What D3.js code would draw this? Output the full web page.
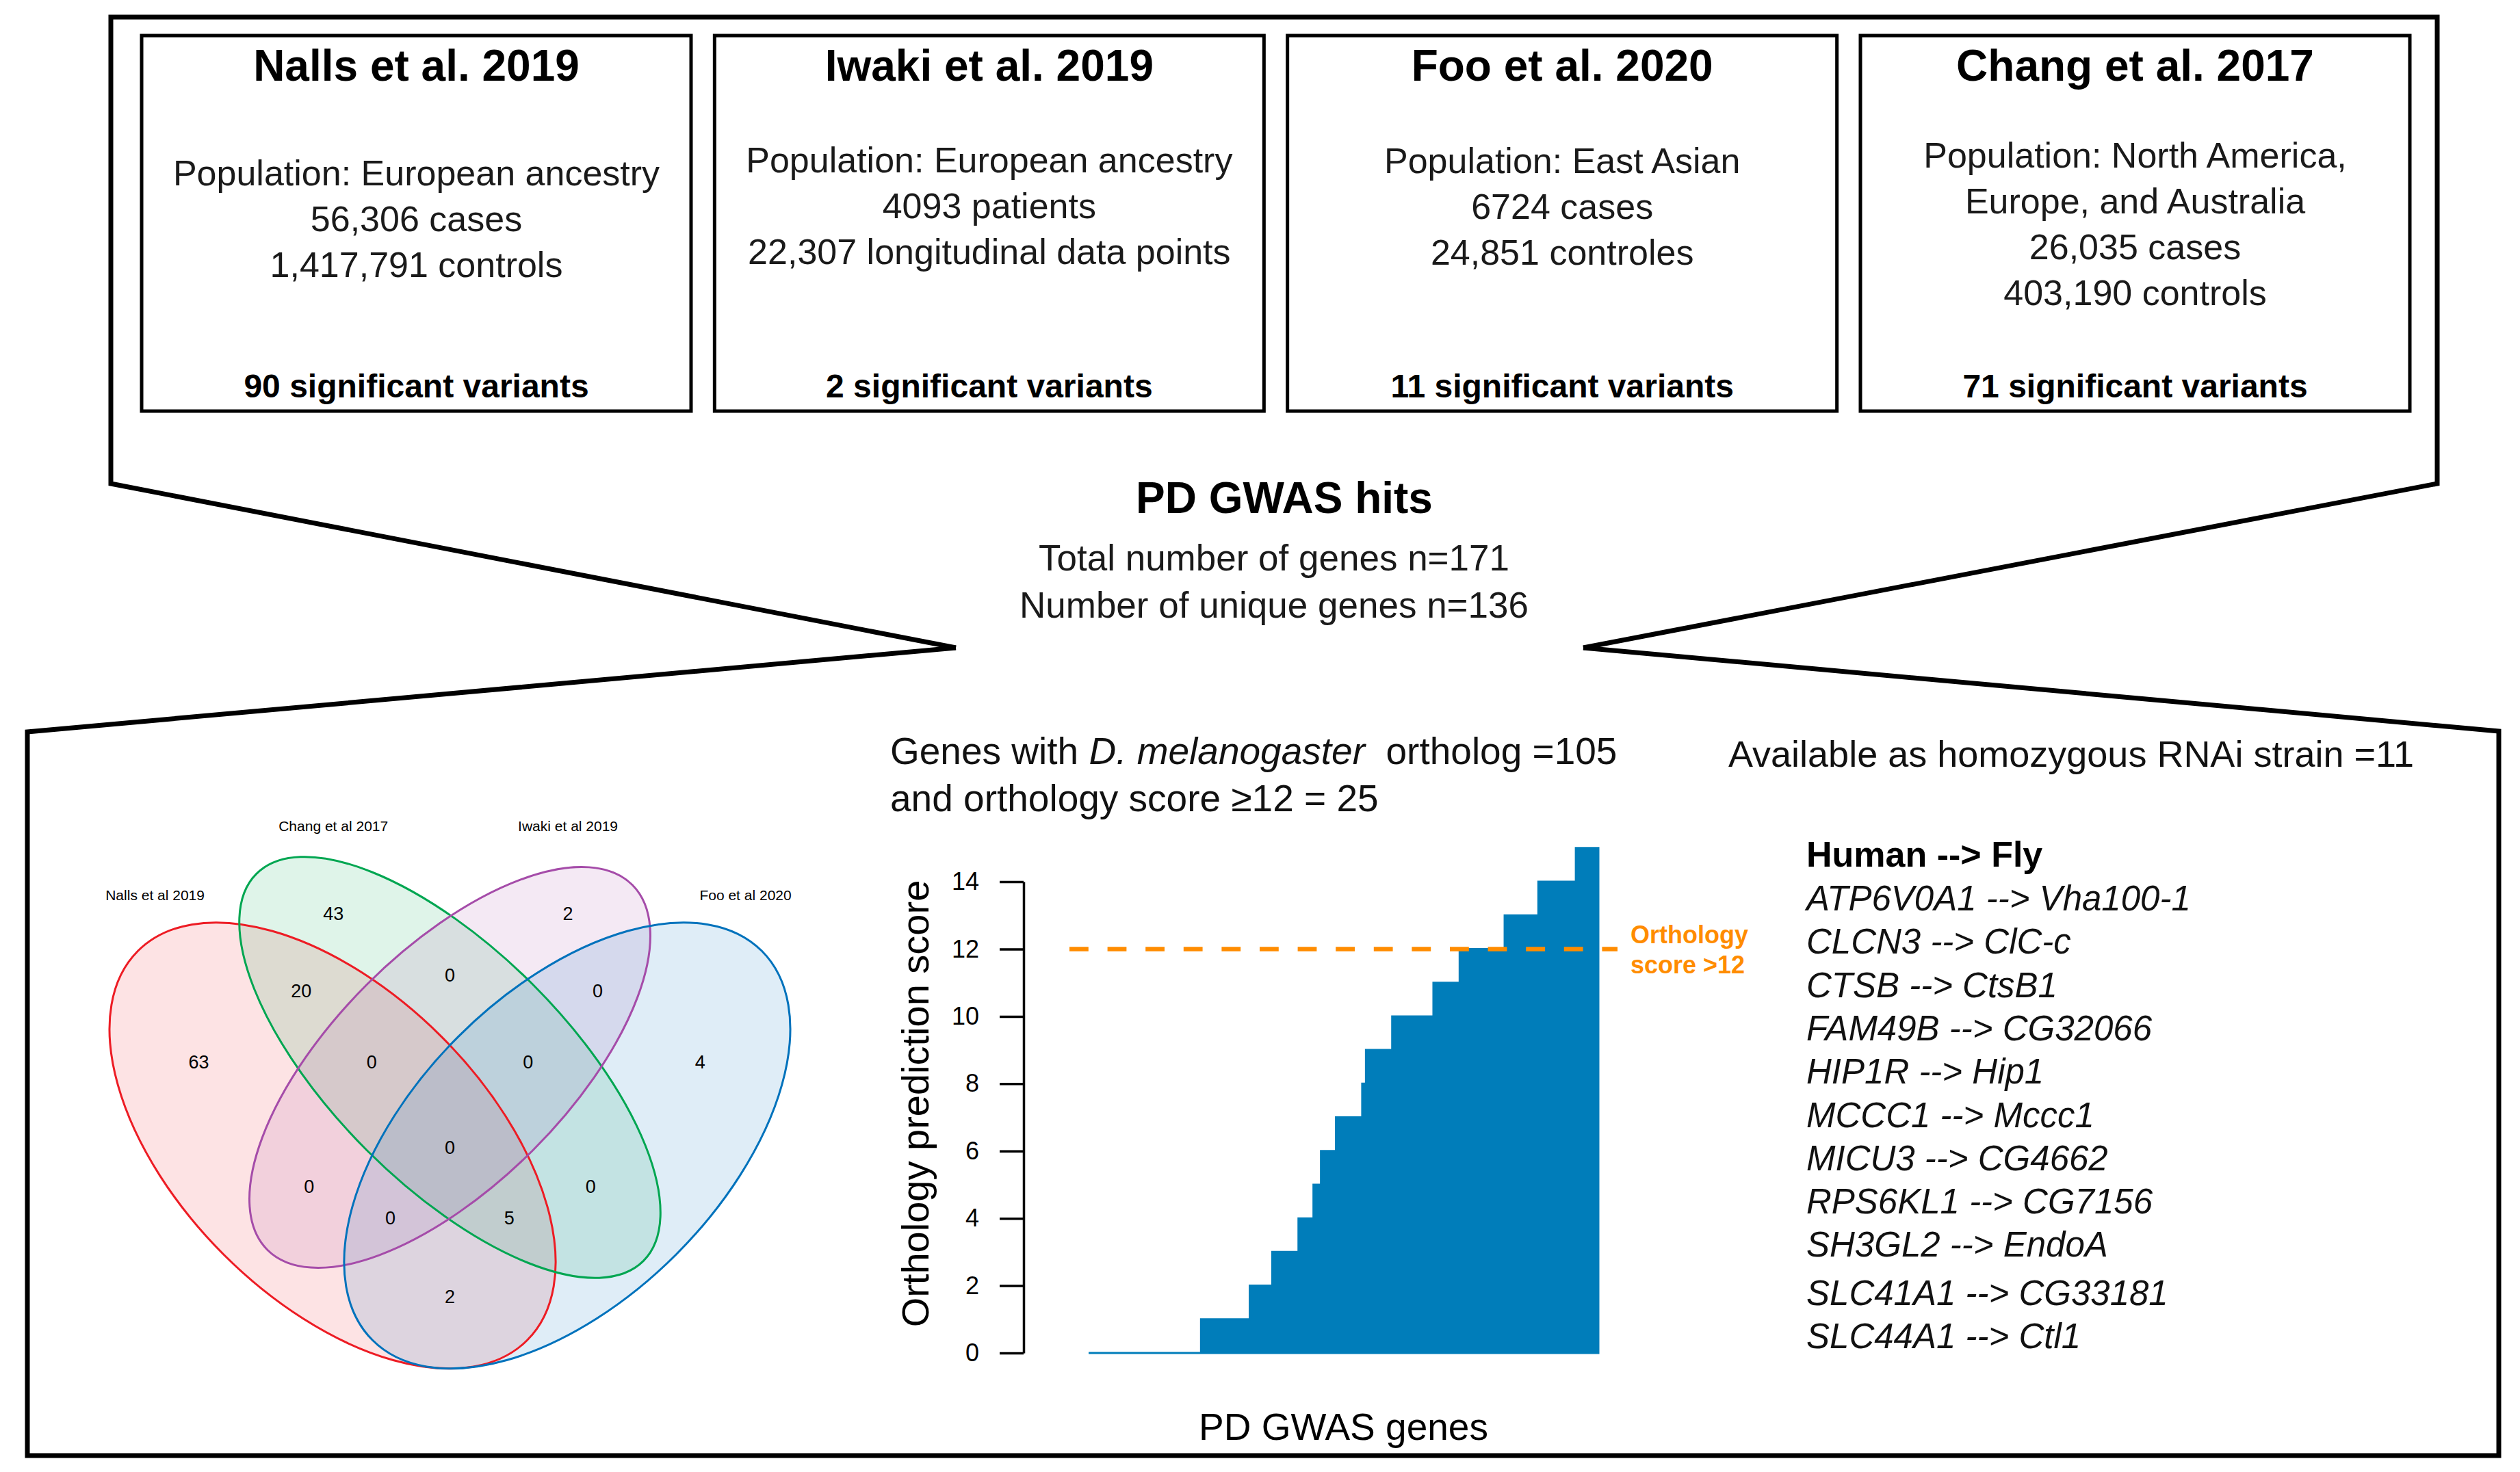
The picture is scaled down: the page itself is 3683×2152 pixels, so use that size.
<!DOCTYPE html>
<html><head><meta charset="utf-8">
<script src="https://cdn.jsdelivr.net/npm/d3@7"></script>
<style>html,body{margin:0;padding:0;background:#fff}svg{display:block}text{white-space:pre}</style>
</head><body><svg id="c"></svg>
<script>
// ---------------- DATA ----------------
const studyTitles = ["Nalls et al. 2019", "Iwaki et al. 2019", "Foo et al. 2020", "Chang et al. 2017"];
const studyLines = [
  ["Population: European ancestry", "56,306 cases", "1,417,791 controls"],
  ["Population: European ancestry", "4093 patients", "22,307 longitudinal data points"],
  ["Population: East Asian", "6724 cases", "24,851 controles"],
  ["Population: North America,", "Europe, and Australia", "26,035 cases", "403,190 controls"]
];
const studyVariants = ["90 significant variants", "2 significant variants", "11 significant variants", "71 significant variants"];
const hitsTitle = "PD GWAS hits";
const hitsLines = ["Total number of genes n=171", "Number of unique genes n=136"];

const vennSets = ["Nalls et al 2019", "Chang et al 2017", "Iwaki et al 2019", "Foo et al 2020"];
const vennRegions = ["N", "C", "I", "F", "NC", "CI", "IF", "NCI", "CIF", "NCIF", "NI", "CF", "NIF", "NCF", "NF"];
const vennCounts  = [63, 43, 2, 4, 20, 0, 0, 0, 0, 0, 0, 0, 0, 5, 2];

const scoreLevels = [0, 1, 2, 3, 4, 5, 6, 7, 8, 9, 10, 11, 12, 13, 14, 15];
const geneCounts  = [30, 13, 6, 7, 4, 2, 4, 7, 1, 7, 11, 7, 12, 9, 10, 6];
const yTicks = [0, 2, 4, 6, 8, 10, 12, 14];
const threshold = 12;
const thresholdLabel = ["Orthology", "score >12"];
const yLabel = "Orthology prediction score";
const xLabel = "PD GWAS genes";
const orthoTitle1 = ["Genes with ", "D. melanogaster", "  ortholog =105"];
const orthoTitle2 = "and orthology score \u226512 = 25";
const rnaiTitle = "Available as homozygous RNAi strain =11";
const pairsHeader = "Human --> Fly";
const humanGenes = ["ATP6V0A1", "CLCN3", "CTSB", "FAM49B", "HIP1R", "MCCC1", "MICU3", "RPS6KL1", "SH3GL2", "SLC41A1", "SLC44A1"];
const flyGenes   = ["Vha100-1", "ClC-c", "CtsB1", "CG32066", "Hip1", "Mccc1", "CG4662", "CG7156", "EndoA", "CG33181", "Ctl1"];

// ---------------- LAYOUT ----------------
const W = 3683, H = 2152;
const FONT = "'Liberation Sans', Arial, Helvetica, sans-serif";
const svg = d3.select("#c").attr("width", W).attr("height", H)
  .style("font-family", FONT);

// Frame (callout shape)
const frame = svg.append("g").attr("fill", "none").attr("stroke", "#000")
  .attr("stroke-width", 7).attr("stroke-linejoin", "miter");
frame.append("path").attr("d", d3.line()([[1397, 947], [162, 707], [162, 25], [3562, 25], [3562, 707], [2314, 947]]));
frame.append("path").attr("d", d3.line()([[1397, 947], [40, 1070], [40, 2128], [3652, 2128], [3652, 1069], [2314, 947]]));

// Study boxes
const boxX = d3.scalePoint().domain(d3.range(4)).range([207, 2719]);
const boxW = 803, boxTop = 52, boxH = 549;
const bodyTop = [271, 252, 253, 245];
const bodyStep = 67;
studyTitles.forEach((t, i) => {
  const g = svg.append("g").attr("transform", `translate(${boxX(i)},0)`);
  g.append("rect").attr("x", 0).attr("y", boxTop).attr("width", boxW).attr("height", boxH)
    .attr("fill", "none").attr("stroke", "#000").attr("stroke-width", 5);
  g.append("text").attr("x", boxW / 2).attr("y", 118).attr("text-anchor", "middle")
    .attr("font-size", 64).attr("font-weight", "bold").text(t);
  g.selectAll("text.body").data(studyLines[i]).join("text").attr("class", "body")
    .attr("x", boxW / 2).attr("y", (d, j) => bodyTop[i] + j * bodyStep)
    .attr("text-anchor", "middle").attr("font-size", 52).attr("font-weight", 300)
    .attr("fill", "#1a1a1a").text(d => d);
  g.append("text").attr("x", boxW / 2).attr("y", 581).attr("text-anchor", "middle")
    .attr("font-size", 48).attr("font-weight", "bold").text(studyVariants[i]);
});

// Middle hits text
svg.append("text").attr("x", 1877).attr("y", 750).attr("text-anchor", "middle")
  .attr("font-size", 64).attr("font-weight", "bold").text(hitsTitle);
svg.selectAll("text.hits").data(hitsLines).join("text").attr("class", "hits")
  .attr("x", 1862).attr("y", (d, i) => 834 + i * 69).attr("text-anchor", "middle")
  .attr("font-size", 53).attr("font-weight", 300).attr("fill", "#1a1a1a").text(d => d);

// ---------------- VENN ----------------
const vx = d3.scaleLinear([0, 1], [86, 1229]);
const vy = d3.scaleLinear([0, 1], [2212, 1069]);
const vu = 1143;
const vennColors = ["#ED1C24", "#00A651", "#A54CA9", "#0072BC"];
const vennShapes = [
  {cx: 0.35, cy: 0.47, a: 0.352, b: 0.197, rot: 45},
  {cx: 0.50, cy: 0.57, a: 0.350, b: 0.150, rot: 45},
  {cx: 0.50, cy: 0.57, a: 0.330, b: 0.150, rot: -45},
  {cx: 0.65, cy: 0.47, a: 0.352, b: 0.197, rot: -45}
];
const vennLabelPos = [[0.123, 0.784], [0.351, 0.872], [0.651, 0.872], [0.878, 0.784]];
const regionPos = {
  N: [0.179, 0.577], C: [0.351, 0.767], I: [0.651, 0.767], F: [0.820, 0.577],
  NC: [0.310, 0.668], CI: [0.500, 0.688], IF: [0.689, 0.668],
  NCI: [0.400, 0.577], CIF: [0.600, 0.577], NCIF: [0.500, 0.468],
  NI: [0.320, 0.418], CF: [0.680, 0.418], NIF: [0.424, 0.378], NCF: [0.576, 0.378], NF: [0.500, 0.277]
};
const venn = svg.append("g");
const ell = (sel) => sel.attr("cx", d => vx(d.cx)).attr("cy", d => vy(d.cy))
  .attr("rx", d => d.a * vu).attr("ry", d => d.b * vu)
  .attr("transform", d => `rotate(${d.rot},${vx(d.cx)},${vy(d.cy)})`);
venn.selectAll("ellipse.fill").data(vennShapes).join("ellipse").attr("class", "fill")
  .call(ell).attr("fill", (d, i) => vennColors[i]).attr("fill-opacity", 0.125).attr("stroke", "none");
venn.selectAll("ellipse.line").data(vennShapes).join("ellipse").attr("class", "line")
  .call(ell).attr("fill", "none").attr("stroke", (d, i) => vennColors[i]).attr("stroke-width", 3);
venn.selectAll("text.set").data(vennSets).join("text").attr("class", "set")
  .attr("x", (d, i) => vx(vennLabelPos[i][0])).attr("y", (d, i) => vy(vennLabelPos[i][1]))
  .attr("text-anchor", "middle").attr("font-size", 21).text(d => d);
venn.selectAll("text.cnt").data(vennRegions).join("text").attr("class", "cnt")
  .attr("x", d => vx(regionPos[d][0])).attr("y", d => vy(regionPos[d][1]))
  .attr("dy", "0.36em").attr("text-anchor", "middle").attr("font-size", 27)
  .text((d, i) => vennCounts[i]);

// ---------------- BAR (step) CHART ----------------
const totalGenes = d3.sum(geneCounts);
const x = d3.scaleLinear([0, totalGenes], [1591, 2336]);
const y = d3.scaleLinear([0, 15], [1978, 1978 - 15 * 49.21]);
const cum = d3.cumsum(geneCounts);
const stepPts = scoreLevels.map((s, i) => ({g: i === 0 ? 0 : cum[i - 1], s}));
stepPts.push({g: totalGenes, s: scoreLevels[scoreLevels.length - 1]});
const barColor = "#007DBA";
svg.append("path").datum(stepPts)
  .attr("d", d3.area().x(d => x(d.g)).y0(y(0)).y1(d => y(d.s)).curve(d3.curveStepAfter))
  .attr("fill", barColor).attr("stroke", barColor).attr("stroke-width", 3).attr("stroke-linejoin", "miter");

const axisScale = d3.scaleLinear([0, 14], [y(0), y(14)]);
const yAxis = svg.append("g").attr("transform", "translate(1496,0)")
  .call(d3.axisLeft(axisScale).tickValues(yTicks).tickSize(35).tickSizeOuter(0).tickPadding(30));
yAxis.selectAll("path,line").attr("stroke", "#000").attr("stroke-width", 3.5);
yAxis.selectAll("text").attr("font-size", 36).attr("font-family", FONT).attr("fill", "#000");

svg.append("text").attr("transform", `translate(1357,${(y(0) + y(14)) / 2 - 20}) rotate(-90)`)
  .attr("text-anchor", "middle").attr("font-size", 56).text(yLabel);
svg.append("text").attr("x", (x.range()[0] + x.range()[1]) / 2).attr("y", 2105)
  .attr("text-anchor", "middle").attr("font-size", 55).text(xLabel);

// threshold line
const orange = "#FF8C00";
svg.append("line").attr("x1", x.range()[0] - 28).attr("x2", x.range()[1] + 28)
  .attr("y1", y(threshold)).attr("y2", y(threshold))
  .attr("stroke", orange).attr("stroke-width", 6.5).attr("stroke-dasharray", "27.8,27.8");
svg.selectAll("text.thr").data(thresholdLabel).join("text").attr("class", "thr")
  .attr("x", 2383).attr("y", (d, i) => 1379 + i * 44)
  .attr("font-size", 36).attr("font-weight", "bold").attr("fill", orange).text(d => d);

// Titles above chart
const t1 = svg.append("text").attr("x", 1301).attr("y", 1117).attr("font-size", 55).attr("font-weight", 300).attr("fill", "#111");
orthoTitle1.forEach((s, i) => t1.append("tspan").attr("font-style", i === 1 ? "italic" : "normal").text(s));
svg.append("text").attr("x", 1301).attr("y", 1186).attr("font-size", 55).attr("font-weight", 300).attr("fill", "#111").text(orthoTitle2);
svg.append("text").attr("x", 2526).attr("y", 1121).attr("font-size", 54).attr("font-weight", 300).attr("fill", "#111").text(rnaiTitle);

// Ortholog list
svg.append("text").attr("x", 2640).attr("y", 1267).attr("font-size", 52).attr("font-weight", "bold").text(pairsHeader);
svg.selectAll("text.pair").data(humanGenes).join("text").attr("class", "pair")
  .attr("x", 2640).attr("y", (d, i) => 1331 + i * 63.3 + (i >= 9 ? 7 : 0))
  .attr("font-size", 51).attr("font-style", "italic").attr("font-weight", 300).attr("fill", "#111")
  .text((d, i) => `${d} --> ${flyGenes[i]}`);
</script>
</body></html>
